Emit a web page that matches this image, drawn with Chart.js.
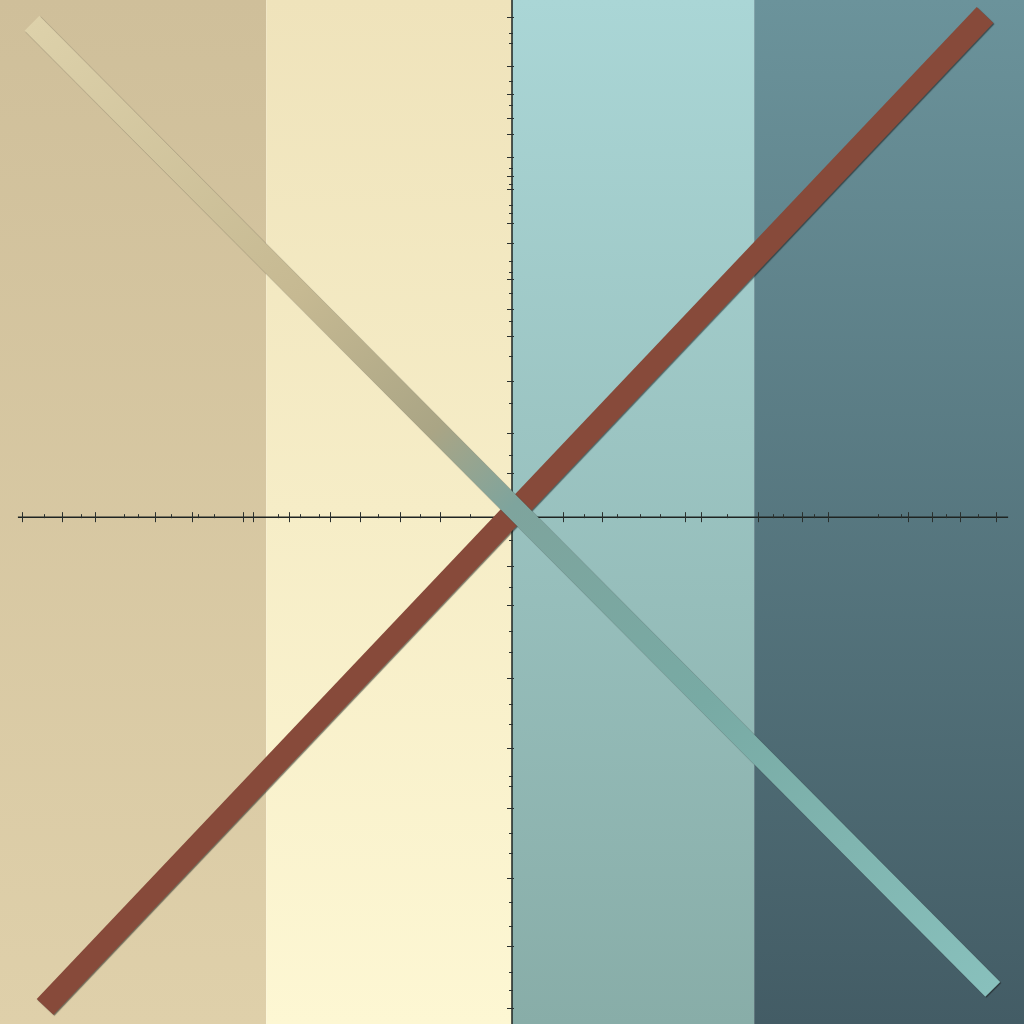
<!DOCTYPE html>
<html>
<head>
<meta charset="utf-8">
<script src="https://cdn.jsdelivr.net/npm/chart.js@4.4.1/dist/chart.umd.min.js"></script>
<style>
html,body{margin:0;padding:0;background:#ffffff;}
#wrap{width:1024px;height:1024px;}
</style>
</head>
<body>
<div id="wrap"><canvas id="c" width="1024" height="1024"></canvas></div>
<script>
// ---- data ----
const risingLineX = [-0.912, 0.924];
const risingLineY = [-0.947, 0.971];
const fallingLineX = [-0.9375, 0.939];
const fallingLineY = [0.955, -0.913];

const bandEdges = [-1, -0.48, 0, 0.473, 1];

const axisXExtent = [-0.965, 0.969];

const xMajorTicks = [-0.957, -0.879, -0.814, -0.697, -0.625, -0.525, -0.506, -0.436, -0.355, -0.297, -0.219, -0.14, -0.023, 0.10, 0.176, 0.338, 0.369, 0.48, 0.567, 0.617, 0.773, 0.82, 0.875, 0.945];
const xMinorTicks = [-0.914, -0.842, -0.758, -0.730, -0.666, -0.613, -0.582, -0.457, -0.414, -0.377, -0.262, -0.18, -0.082, 0.04, 0.14, 0.205, 0.25, 0.29, 0.42, 0.51, 0.53, 0.59, 0.715, 0.76, 0.848, 0.91];
const yMajorTicks = [0.967, 0.873, 0.819, 0.771, 0.741, 0.696, 0.659, 0.634, 0.568, 0.530, 0.460, 0.402, 0.351, 0.263, 0.162, 0.085, -0.094, -0.170, -0.311, -0.447, -0.563, -0.698, -0.830, -0.950];
const yMinorTicks = [0.936, 0.917, 0.843, 0.797, 0.676, 0.645, 0.603, 0.588, 0.495, 0.474, 0.433, 0.380, 0.312, 0.220, 0.120, 0.040, -0.045, -0.135, -0.220, -0.260, -0.362, -0.400, -0.500, -0.520, -0.610, -0.650, -0.745, -0.790, -0.880, -0.915];

// ---- styles ----
const bandTop = ['#cfbf9a', '#efe3bb', '#aad6d6', '#6b939b'];
const bandBottom = ['#dfd0aa', '#fdf7d3', '#88ada8', '#435c65'];
const fallingStops = [[0, '#ddd1aa'], [0.28, '#c6b992'], [0.42, '#aaa585'], [0.5, '#7ea49d'], [0.7, '#78aaa4'], [1, '#88c0bc']];

const toPoints = (xs, ys) => xs.map((x, i) => ({x, y: ys[i]}));

const bandPlugin = {
  id: 'bands',
  beforeDatasetsDraw(chart) {
    const {ctx, chartArea, scales} = chart;
    const xs = scales.x;
    ctx.save();
    for (let i = 0; i < bandEdges.length - 1; i++) {
      const x0 = xs.getPixelForValue(bandEdges[i]);
      const x1 = xs.getPixelForValue(bandEdges[i + 1]);
      const g = ctx.createLinearGradient(0, chartArea.top, 0, chartArea.bottom);
      g.addColorStop(0, bandTop[i]);
      g.addColorStop(1, bandBottom[i]);
      ctx.fillStyle = g;
      ctx.fillRect(x0, chartArea.top, x1 - x0, chartArea.bottom - chartArea.top);
    }
    // axes
    const ys = scales.y;
    const ax = xs.getPixelForValue(0);
    const ay = ys.getPixelForValue(0);
    ctx.strokeStyle = '#1e2422';
    ctx.lineWidth = 1.5;
    ctx.beginPath();
    ctx.moveTo(xs.getPixelForValue(axisXExtent[0]), ay);
    ctx.lineTo(xs.getPixelForValue(axisXExtent[1]), ay);
    ctx.moveTo(ax, chartArea.top);
    ctx.lineTo(ax, chartArea.bottom);
    ctx.stroke();
    ctx.lineWidth = 1;
    ctx.strokeStyle = '#2a302e';
    ctx.beginPath();
    xMajorTicks.forEach(v => { const p = Math.round(xs.getPixelForValue(v)) + 0.5; ctx.moveTo(p, ay - 5); ctx.lineTo(p, ay + 5); });
    xMinorTicks.forEach(v => { const p = Math.round(xs.getPixelForValue(v)) + 0.5; ctx.moveTo(p, ay - 3); ctx.lineTo(p, ay + 1); });
    yMajorTicks.forEach(v => { const p = Math.round(ys.getPixelForValue(v)) + 0.5; ctx.moveTo(ax - 5, p); ctx.lineTo(ax + 2, p); });
    yMinorTicks.forEach(v => { const p = Math.round(ys.getPixelForValue(v)) + 0.5; ctx.moveTo(ax - 3, p); ctx.lineTo(ax + 1, p); });
    ctx.stroke();
    ctx.restore();
  },
  beforeDatasetDraw(chart) {
    const ctx = chart.ctx;
    ctx.save();
    ctx.shadowColor = 'rgba(20,20,20,0.55)';
    ctx.shadowOffsetX = 1;
    ctx.shadowOffsetY = 1;
    ctx.shadowBlur = 1;
  },
  afterDatasetDraw(chart) {
    chart.ctx.restore();
  }
};

function fallingGradient(context) {
  const chart = context.chart;
  const {ctx, scales, chartArea} = chart;
  if (!chartArea || !scales.x || !scales.y) return fallingStops[0][1];
  const x0 = scales.x.getPixelForValue(fallingLineX[0]);
  const y0 = scales.y.getPixelForValue(fallingLineY[0]);
  const x1 = scales.x.getPixelForValue(fallingLineX[1]);
  const y1 = scales.y.getPixelForValue(fallingLineY[1]);
  if (![x0, y0, x1, y1].every(Number.isFinite)) return fallingStops[0][1];
  const g = ctx.createLinearGradient(x0, y0, x1, y1);
  fallingStops.forEach(s => g.addColorStop(s[0], s[1]));
  return g;
}

new Chart(document.getElementById('c'), {
  type: 'scatter',
  data: {
    datasets: [
      {
        label: 'rising',
        data: toPoints(risingLineX, risingLineY),
        showLine: true,
        borderColor: '#874a3a',
        borderWidth: 23,
        borderCapStyle: 'butt',
        pointRadius: 0,
        order: 1
      },
      {
        label: 'falling',
        data: toPoints(fallingLineX, fallingLineY),
        showLine: true,
        borderColor: fallingGradient,
        borderWidth: 21,
        borderCapStyle: 'butt',
        pointRadius: 0,
        order: 0
      }
    ]
  },
  options: {
    responsive: false,
    animation: false,
    devicePixelRatio: 1,
    layout: {padding: 0},
    plugins: {legend: {display: false}, tooltip: {enabled: false}},
    scales: {
      x: {type: 'linear', min: -1, max: 1, display: false},
      y: {type: 'linear', min: -0.98, max: 1, display: false}
    }
  },
  plugins: [bandPlugin]
});
</script>
</body>
</html>
